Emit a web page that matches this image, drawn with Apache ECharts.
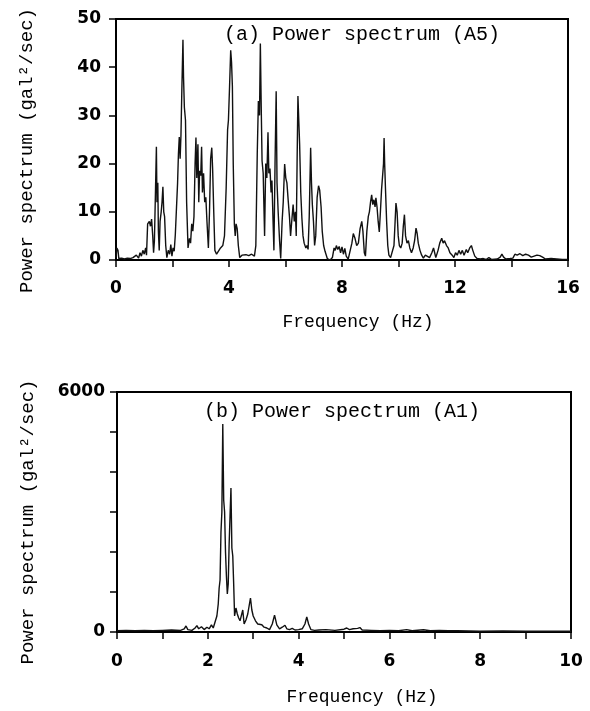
<!DOCTYPE html>
<html>
<head>
<meta charset="utf-8">
<script src="https://cdn.jsdelivr.net/npm/echarts@6/dist/echarts.min.js"></script>
<style>
	html, body { margin: 0; padding: 0; background: #fff; }
	#chart { width: 590px; height: 711px; }
</style>
</head>
<body>
<div id="chart"></div>
<script>
'use strict';
// (a) A5 spectrum, frequency (Hz) and power (gal^2/sec)
var freqA = [0, 0.03, 0.07, 0.1, 0.2, 0.3, 0.4, 0.5, 0.6, 0.65, 0.72, 0.8, 0.85, 0.9, 0.95, 1.0, 1.05, 1.08,
	1.12, 1.18, 1.22, 1.26, 1.3, 1.33, 1.36, 1.4, 1.43, 1.45, 1.48, 1.5, 1.53, 1.56, 1.6, 1.63, 1.66, 1.69,
	1.72, 1.76, 1.8, 1.85, 1.9, 1.94, 1.98, 2.02, 2.06, 2.1, 2.14, 2.18, 2.21, 2.24, 2.27, 2.3, 2.33, 2.37,
	2.39, 2.42, 2.46, 2.5, 2.55, 2.6, 2.64, 2.68, 2.72, 2.76, 2.8, 2.83, 2.86, 2.9, 2.93, 2.96, 3.0, 3.03,
	3.06, 3.1, 3.14, 3.18, 3.22, 3.27, 3.31, 3.35, 3.39, 3.42, 3.46, 3.5, 3.56, 3.62, 3.7, 3.78, 3.84, 3.9,
	3.95, 3.98, 4.02, 4.06, 4.09, 4.12, 4.15, 4.19, 4.22, 4.25, 4.29, 4.33, 4.38, 4.42, 4.46, 4.6, 4.7, 4.8,
	4.9, 4.95, 5.0, 5.04, 5.08, 5.11, 5.14, 5.17, 5.21, 5.26, 5.3, 5.34, 5.38, 5.41, 5.45, 5.49, 5.52, 5.56,
	5.59, 5.63, 5.67, 5.7, 5.74, 5.79, 5.83, 5.88, 5.92, 5.97, 6.01, 6.05, 6.1, 6.14, 6.18, 6.22, 6.27, 6.31,
	6.35, 6.38, 6.41, 6.44, 6.47, 6.5, 6.54, 6.58, 6.62, 6.66, 6.72, 6.76, 6.8, 6.84, 6.89, 6.92, 6.95, 6.99,
	7.03, 7.07, 7.12, 7.17, 7.21, 7.26, 7.3, 7.35, 7.4, 7.48, 7.58, 7.66, 7.72, 7.76, 7.8, 7.85, 7.9, 7.95,
	8.0, 8.05, 8.1, 8.15, 8.22, 8.28, 8.35, 8.4, 8.46, 8.52, 8.58, 8.64, 8.7, 8.74, 8.79, 8.83, 8.88, 8.93,
	8.97, 9.01, 9.05, 9.09, 9.13, 9.17, 9.2, 9.24, 9.28, 9.32, 9.36, 9.4, 9.44, 9.47, 9.49, 9.51, 9.54, 9.58,
	9.62, 9.66, 9.72, 9.78, 9.84, 9.88, 9.91, 9.95, 9.99, 10.03, 10.08, 10.13, 10.17, 10.21, 10.25, 10.3,
	10.35, 10.4, 10.46, 10.52, 10.57, 10.62, 10.66, 10.7, 10.76, 10.82, 10.88, 10.95, 11.02, 11.1, 11.18,
	11.24, 11.28, 11.32, 11.4, 11.46, 11.53, 11.58, 11.63, 11.7, 11.76, 11.82, 11.9, 11.96, 12.02, 12.08,
	12.14, 12.2, 12.26, 12.32, 12.4, 12.45, 12.52, 12.58, 12.63, 12.7, 12.78, 12.9, 13.0, 13.1, 13.2, 13.3,
	13.5, 13.6, 13.66, 13.72, 13.8, 13.95, 14.05, 14.12, 14.2, 14.3, 14.4, 14.5, 14.6, 14.7, 14.8, 14.9,
	15.0, 15.1, 15.2, 15.4, 15.6, 15.8, 16.0];
var powA = [0.5, 2.5, 2.0, 0.3, 0.4, 0.2, 0.4, 0.3, 0.5, 0.2, 1.0, 0.4, 1.5, 0.8, 2.0, 1.2, 2.5, 1.0,
	7.5, 8.0, 7.0, 8.5, 5.0, 1.5, 4.0, 15, 23.5, 12, 16, 6, 2, 8, 10, 12, 15.2, 10,
	9, 3, 0.5, 2, 1.2, 3.2, 0.8, 2.5, 1.8, 5.3, 5, 16, 22, 25.5, 21, 26, 35, 45.7,
	38, 31.7, 29, 12, 2.5, 4.5, 3.5, 7.5, 6, 9, 20, 25.4, 17, 24, 12, 18.5, 17.5, 23.5,
	14, 18, 12, 13, 8, 2.5, 10, 21, 23.3, 19, 10, 2, 1.2, 1.5, 2.5, 3, 5, 15,
	27, 29, 36, 43.5, 41, 36, 20, 7.4, 5, 7.5, 6.5, 3, 0.5, 0.3, 1.0, 1.1, 0.9, 1.2,
	0.8, 3, 22, 33, 30, 44.9, 32, 20.6, 18, 5, 20, 17, 26.5, 18, 19, 14, 16.5, 8,
	2, 20, 35, 16, 10, 4, 0.3, 8, 12, 19.9, 17, 16, 12, 9, 5, 8, 11.5, 8,
	10, 5, 20, 34, 29, 24, 14, 8.7, 5, 3.5, 2.5, 3, 2.2, 9, 23.3, 16, 11.5, 8,
	3, 5, 13, 15.4, 14.5, 11, 6, 3, 1.8, 0.3, 0, 0.5, 2.5, 2.0, 3, 2.2, 2.8, 1.5,
	2.7, 1.2, 2.4, 0.8, 0.2, 0.2, 3.5, 5.5, 4.5, 3, 3.5, 6.5, 8, 6, 1.5, 0.8, 6, 9,
	10, 12, 13.5, 11.5, 12.5, 11, 12.9, 11, 8, 5.8, 10, 14.6, 15, 20, 25.3, 20, 14.6, 8,
	3, 1, 0.5, 0.3, 3, 8, 11.8, 10, 5, 3, 2.5, 3.5, 7, 9.4, 5, 3.5,
	4, 2.5, 1.5, 2.5, 4, 6.6, 5.5, 3.5, 2, 1, 0.4, 1, 0.8, 0.5, 1.5,
	2.5, 1.5, 0.5, 2, 3.5, 4.5, 3.5, 4, 3, 2.5, 1.5, 1.0, 0.5, 1.5, 1.0,
	2.0, 1.2, 2.0, 1.0, 2.2, 1.5, 2.5, 3, 2, 0.8, 0.3, 0.2, 0.3, 0.1, 0.5, 0.1,
	0.2, 0.6, 1.2, 0.6, 0.2, 0.3, 0.4, 1.2, 1.0, 1.3, 0.9, 1.2, 1.0, 0.6, 0.8, 1.0,
	0.9, 0.6, 0.2, 0.3, 0.2, 0.1, 0.1];

// (b) A1 spectrum
var freqB = [0, 0.2, 0.4, 0.6, 0.8, 1.0, 1.2, 1.4, 1.48, 1.52, 1.56, 1.65, 1.72, 1.76, 1.8, 1.86, 1.92,
	1.98, 2.03, 2.08, 2.12, 2.16, 2.2, 2.23, 2.25, 2.27, 2.29, 2.31, 2.33, 2.35, 2.37, 2.39, 2.41, 2.43,
	2.45, 2.47, 2.49, 2.51, 2.53, 2.55, 2.57, 2.59, 2.62, 2.65, 2.68, 2.71, 2.74, 2.77, 2.8, 2.84, 2.88,
	2.91, 2.94, 2.97, 3.0, 3.05, 3.1, 3.14, 3.19, 3.24, 3.3, 3.36, 3.42, 3.47, 3.52, 3.58, 3.64, 3.7, 3.74,
	3.8, 3.86, 3.92, 4.0, 4.08, 4.14, 4.18, 4.22, 4.27, 4.35, 4.45, 4.6, 4.8, 5.0, 5.06, 5.12, 5.2, 5.3,
	5.35, 5.4, 5.6, 5.8, 6.0, 6.2, 6.38, 6.5, 6.75, 6.9, 7.1, 7.3, 7.5, 8.0, 8.5, 9.0, 9.5, 10];
var powB = [30, 40, 30, 40, 30, 40, 50, 40, 80, 150, 60, 40, 100, 160, 80, 130, 60,
	120, 80, 180, 100, 250, 400, 700, 1100, 1300, 2500, 3000, 5200, 3300, 3000, 2000, 1400, 950,
	1200, 2200, 2900, 3600, 2100, 1900, 1200, 400, 600, 450, 350, 280, 300, 550, 200, 300, 450,
	650, 850, 550, 400, 280, 200, 240, 180, 120, 100, 60, 200, 420, 180, 80, 120, 170, 80,
	60, 90, 50, 60, 80, 200, 380, 200, 60, 40, 50, 60, 40, 70, 100, 60, 80, 90,
	110, 50, 40, 30, 40, 30, 60, 30, 55, 30, 40, 30, 30, 20, 25, 20, 20, 20];

var titleA = '(a) Power spectrum (A5)';
var titleB = '(b) Power spectrum (A1)';
var yName = 'Power spectrum (gal\u00b2/sec)';
var xName = 'Frequency (Hz)';

function pairs(xs, ys) {
	return xs.map(function (x, i) { return [x, ys[i]]; });
}

var mono = 'Liberation Mono';
var tickFont = { color: '#000', fontFamily: 'DejaVu Sans', fontWeight: 'bold', fontSize: 17 };
var axisLine = { show: true, lineStyle: { color: '#000', width: 2 } };
var axisTick = { show: true, inside: false, length: 7, lineStyle: { color: '#000', width: 1.5 } };

var myChart = echarts.init(document.getElementById('chart'), null, { renderer: 'canvas' });
myChart.setOption({
	animation: false,
	backgroundColor: '#fff',
	title: [
		{ text: titleA, left: 219, top: 20, textStyle: { fontFamily: mono, fontSize: 20, fontWeight: 'normal', color: '#000' } },
		{ text: titleB, left: 199, top: 397, textStyle: { fontFamily: mono, fontSize: 20, fontWeight: 'normal', color: '#000' } }
	],
	grid: [
		{ left: 116, top: 19, width: 452, height: 241, show: true, borderColor: '#000', borderWidth: 2 },
		{ left: 117, top: 392, width: 454, height: 240, show: true, borderColor: '#000', borderWidth: 2 }
	],
	xAxis: [
		{
			gridIndex: 0, type: 'value', min: 0, max: 16, interval: 2,
			axisLine: axisLine, axisTick: axisTick, splitLine: { show: false },
			axisLabel: Object.assign({ margin: 20, formatter: function (v) { return v % 4 === 0 ? v : ''; } }, tickFont),
			name: xName, nameLocation: 'middle', nameGap: 53,
			nameTextStyle: { fontFamily: mono, fontSize: 18, color: '#000', padding: [0, 0, 0, 32] }
		},
		{
			gridIndex: 1, type: 'value', min: 0, max: 10, interval: 1,
			axisLine: axisLine, axisTick: axisTick, splitLine: { show: false },
			axisLabel: Object.assign({ margin: 21, formatter: function (v) { return v % 2 === 0 ? v : ''; } }, tickFont),
			name: xName, nameLocation: 'middle', nameGap: 56,
			nameTextStyle: { fontFamily: mono, fontSize: 18, color: '#000', padding: [0, 0, 0, 36] }
		}
	],
	yAxis: [
		{
			gridIndex: 0, type: 'value', min: 0, max: 50, interval: 10,
			axisLine: axisLine, axisTick: axisTick, splitLine: { show: false },
			axisLabel: Object.assign({ margin: 15 }, tickFont),
			name: yName, nameLocation: 'middle', nameGap: 80, nameRotate: 90,
			nameTextStyle: { fontFamily: mono, fontSize: 19, color: '#000', padding: [0, 22, 0, 0] }
		},
		{
			gridIndex: 1, type: 'value', min: 0, max: 6000, interval: 1000,
			axisLine: axisLine, axisTick: axisTick, splitLine: { show: false },
			axisLabel: Object.assign({ margin: 12, formatter: function (v) { return (v === 0 || v === 6000) ? v : ''; } }, tickFont),
			name: yName, nameLocation: 'middle', nameGap: 80, nameRotate: 90,
			nameTextStyle: { fontFamily: mono, fontSize: 19, color: '#000', padding: [0, 20, 0, 0] }
		}
	],
	series: [
		{
			type: 'line', xAxisIndex: 0, yAxisIndex: 0, data: pairs(freqA, powA),
			showSymbol: false, lineStyle: { color: '#111', width: 1.4 }
		},
		{
			type: 'line', xAxisIndex: 1, yAxisIndex: 1, data: pairs(freqB, powB),
			showSymbol: false, lineStyle: { color: '#111', width: 1.4 }
		}
	]
});
</script>
</body>
</html>
